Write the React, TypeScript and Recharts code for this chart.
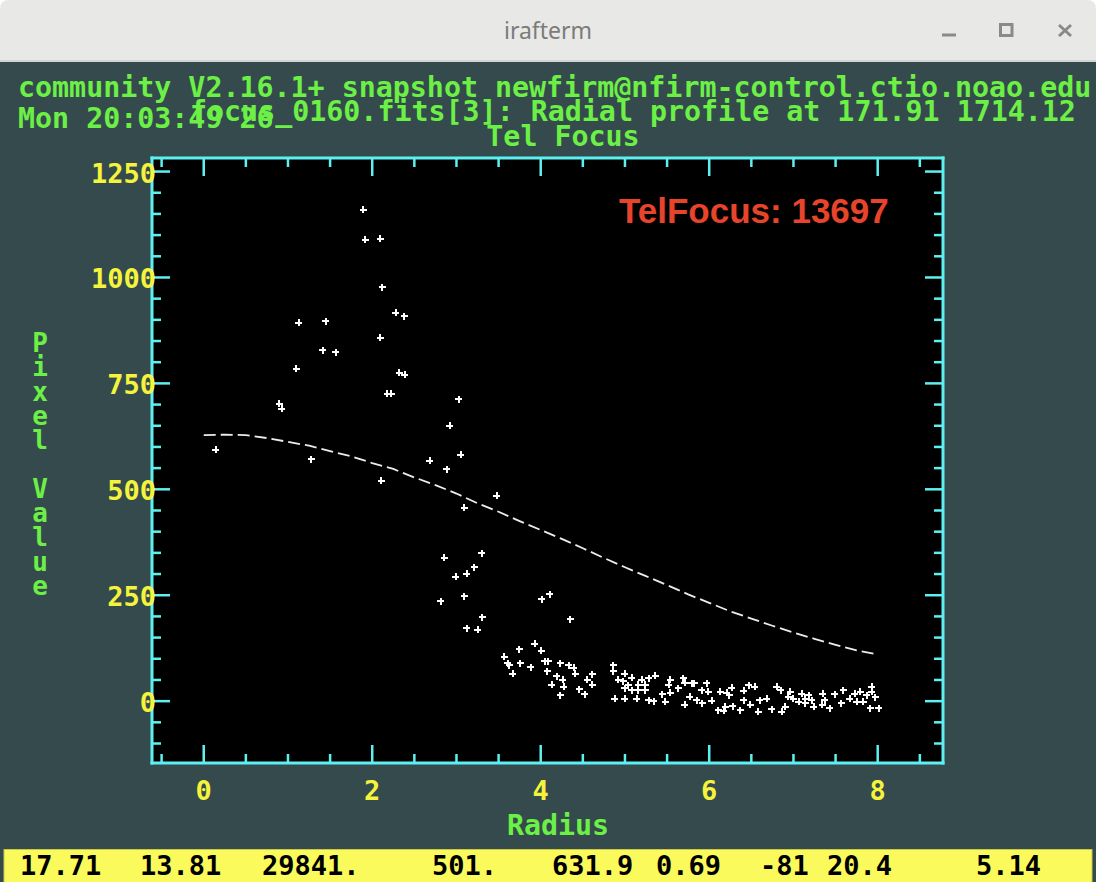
import React from 'react';
import { ScatterChart, Scatter, XAxis, YAxis, CartesianGrid } from 'recharts';

// ---------- data ----------
const xTicks = [-0.5, 0, 0.5, 1, 1.5, 2, 2.5, 3, 3.5, 4, 4.5, 5, 5.5, 6, 6.5, 7, 7.5, 8, 8.5];
const xMajor = [0, 2, 4, 6, 8];
const yTicks = [-100, -50, 0, 50, 100, 150, 200, 250, 300, 350, 400, 450, 500, 550, 600, 650, 700, 750, 800, 850, 900, 950, 1000, 1050, 1100, 1150, 1200, 1250];
const yMajor = [0, 250, 500, 750, 1000, 1250];

// radial profile fit (radius, value)
const fitRadius = [0, 0.25, 0.5, 0.75, 1, 1.25, 1.5, 1.75, 2, 2.25, 2.5, 2.75, 3, 3.25, 3.5, 3.75, 4, 4.25, 4.5, 4.75, 5, 5.25, 5.5, 5.75, 6, 6.25, 6.5, 6.75, 7, 7.25, 7.5, 7.75, 8];
const fitValue = [628, 629, 628, 621, 612, 603, 590, 578, 562, 548, 528, 510, 490, 467, 447, 425, 404, 383, 361, 338, 316, 295, 274, 252, 232, 212, 195, 178, 162, 147, 133, 120, 110];

// pixel samples near the core (radius, value)
const corePoints: [number, number][] = [
  [1.894, 1160], [1.92, 1089], [2.096, 1091], [2.12, 977], [2.28, 917], [2.38, 909],
  [2.096, 858], [1.13, 893], [1.447, 897], [1.41, 828], [1.57, 824], [1.1, 784],
  [0.894, 702], [0.925, 690], [2.32, 775], [2.385, 770], [2.18, 726], [2.227, 726],
  [3.03, 712], [2.92, 650], [0.142, 593], [1.274, 571], [2.108, 520], [3.05, 581],
  [2.685, 567], [2.887, 547], [3.476, 485], [3.09, 456], [2.855, 339], [3.3, 349],
  [3.21, 316], [3.12, 301], [2.99, 294], [3.09, 248], [2.816, 236], [3.306, 198],
  [3.12, 172], [3.255, 168],
];

// pixel samples in the wings (radius, value)
const wingPoints: [number, number][] = [
  [4.01, 240], [4.11, 252], [4.35, 193], [3.93, 136], [3.745, 123], [4.006, 119],
  [3.567, 105], [3.61, 90], [3.626, 85], [3.757, 90], [3.88, 80], [3.667, 65],
  [4.05, 94], [4.09, 94], [4.08, 71], [4.23, 90], [4.33, 85], [4.39, 79], [4.41, 65],
  [4.19, 59], [4.26, 50], [4.13, 39], [4.275, 34], [4.23, 14], [4.61, 64], [4.55, 51],
  [4.61, 39], [4.46, 28], [4.52, 16], [4.86, 85], [4.86, 71], [4.92, 51], [5.0, 65],
  [4.98, 47], [5.08, 55], [5.04, 38], [5.0, 30], [5.08, 26], [5.16, 39], [5.2, 50],
  [5.28, 54], [5.24, 39], [5.16, 26], [5.24, 26], [5.36, 60], [4.88, 6], [5.0, 6],
  [5.14, 6], [5.28, 2], [5.34, 0], [5.48, -2], [5.44, 16], [5.54, 20], [5.52, 39],
  [5.54, 50], [5.63, 30], [5.69, 54], [5.71, 44], [5.79, 42], [5.77, 10], [5.71, -9],
  [5.82, 42], [5.97, 42], [5.91, 26], [5.99, 22], [5.85, 2], [5.92, -5], [6.03, 1],
  [6.13, 22], [6.21, 20], [6.27, 32], [6.24, 14], [6.11, -21], [6.19, -13], [6.28, -12],
  [6.17, -23], [6.41, 24], [6.47, 38], [6.54, 34], [6.41, 2], [6.37, -21], [6.49, -9],
  [6.6, 2], [6.68, 6], [6.58, -25], [6.74, -19], [6.8, 34], [6.85, 26], [6.9, -13],
  [6.86, -25], [6.96, 22], [6.94, 10], [7.0, 6], [7.06, -2], [7.1, 18], [7.14, 6],
  [7.18, 14], [7.22, 2], [7.14, -5], [7.24, -13], [7.35, 18], [7.37, 2], [7.34, -9],
  [7.43, -17], [7.49, 16], [7.59, 26], [7.57, -5], [7.67, 6], [7.73, 18], [7.79, 22],
  [7.75, -2], [7.83, -2], [7.87, 14], [7.93, 34], [7.93, 22], [7.97, 9], [7.91, -17],
  [8.01, -17],
];

const statusFields = ['17.71', '13.81', '29841.', '501.', '631.9', '0.69', '-81', '20.4', '5.14'];
const statusX = [20, 140, 262, 432, 552, 656, 760, 827, 976];

const headerLine1 = 'community V2.16.1+ snapshot newfirm@nfirm-control.ctio.noao.edu';
const headerLine2 = 'Mon 20:03:49 26';
const plotTitle = 'focus_0160.fits[3]: Radial profile at 171.91 1714.12';
const subTitle = 'Tel Focus';
const xLabel = 'Radius';
const yLabel = 'Pixel Value';
const focusNote = 'TelFocus: 13697';

// ---------- styles ----------
const W = 1096;
const H = 882;
const TERM_BG = '#354a4d';
const GREEN = '#6cf046';
const YELLOW = '#f4f43c';
const CYAN = '#5ef0f0';
const MONO = "'DejaVu Sans Mono', 'Liberation Mono', monospace";
const MAJOR_LEN = 18;
const MINOR_LEN = 9;

const fitData = fitRadius.map((x, i) => ({ x, y: fitValue[i] }));
const pointData = [...corePoints, ...wingPoints].map(([x, y]) => ({ x, y }));

const Cross = (props: any) => {
  const { cx, cy } = props;
  if (cx == null || cy == null) return <g />;
  return (
    <path
      d={`M${cx - 3.5},${cy}H${cx + 3.5}M${cx},${cy - 3.5}V${cy + 3.5}`}
      stroke="#ffffff"
      strokeWidth={2}
      shapeRendering="crispEdges"
    />
  );
};

const Nothing = () => <g />;

const tickLabelStyle = {
  fill: YELLOW,
  fontFamily: MONO,
  fontSize: 27,
  fontWeight: 700 as const,
};

const BottomTick = (props: any) => {
  const { x, y, payload } = props;
  const v = payload.value;
  const major = xMajor.includes(v);
  return (
    <g>
      <line x1={x} y1={y} x2={x} y2={y - (major ? MAJOR_LEN : MINOR_LEN)} stroke={CYAN} strokeWidth={2.5} />
      {major && (
        <text x={x} y={y + 37} textAnchor="middle" {...tickLabelStyle}>
          {String(v)}
        </text>
      )}
    </g>
  );
};

const TopTick = (props: any) => {
  const { x, y, payload } = props;
  const major = xMajor.includes(payload.value);
  return <line x1={x} y1={y} x2={x} y2={y + (major ? MAJOR_LEN : MINOR_LEN)} stroke={CYAN} strokeWidth={2.5} />;
};

const LeftTick = (props: any) => {
  const { x, y, payload } = props;
  const v = payload.value;
  const major = yMajor.includes(v);
  return (
    <g>
      <line x1={x} y1={y} x2={x + (major ? MAJOR_LEN : MINOR_LEN)} y2={y} stroke={CYAN} strokeWidth={2.5} />
      {major && (
        <text x={x + 4} y={y + 11} textAnchor="end" {...tickLabelStyle}>
          {String(v)}
        </text>
      )}
    </g>
  );
};

const RightTick = (props: any) => {
  const { x, y, payload } = props;
  const major = yMajor.includes(payload.value);
  return <line x1={x} y1={y} x2={x - (major ? MAJOR_LEN : MINOR_LEN)} y2={y} stroke={CYAN} strokeWidth={2.5} />;
};

const axisLine = { stroke: CYAN, strokeWidth: 3, strokeLinecap: 'square' as const };

export default function App() {
  const yLetters = yLabel.split('');
  return (
    <div style={{ position: 'absolute', left: 0, top: 0, width: W, height: H, overflow: 'hidden' }}>
      {/* window chrome and terminal background */}
      <svg style={{ position: 'absolute', left: 0, top: 0 }} width={W} height={H}>
        <rect x={0} y={0} width={W} height={H} fill="#ffffff" />
        <path d={`M0,62 V9 Q0,0 9,0 H${W - 9} Q${W},0 ${W},9 V62 Z`} fill="#e8e8e6" />
        <rect x={0} y={60} width={W} height={2} fill="#d4d4d2" />
        <rect x={0} y={62} width={W} height={H - 62} fill={TERM_BG} />
        <line x1={942} y1={35} x2={956} y2={35} stroke="#8a8a8a" strokeWidth={3} />
        <rect x={1000.5} y={24.5} width={11.5} height={11} fill="none" stroke="#8a8a8a" strokeWidth={3} />
        <path d="M1059,25 L1071,36 M1071,25 L1059,36" stroke="#8a8a8a" strokeWidth={3} />
        <text x={548} y={39} textAnchor="middle" fill="#7b7b7b" fontFamily="'Noto Sans', 'DejaVu Sans', sans-serif" fontSize={23}>
          irafterm
        </text>
        <rect x={4} y={849.5} width={1088} height={33} fill="#fafa5c" stroke="#c9c944" strokeWidth={1} />
      </svg>

      {/* chart */}
      <div style={{ position: 'absolute', left: 0, top: 0 }}>
        <ScatterChart width={W} height={H} margin={{ top: 157, right: 152, bottom: 118, left: 151 }}>
          <CartesianGrid xAxisId="b" yAxisId="l" fill="#000000" stroke="none" horizontal={false} vertical={false} />
          <XAxis
            xAxisId="b"
            dataKey="x"
            type="number"
            domain={[-0.614, 8.775]}
            allowDataOverflow
            ticks={xTicks}
            interval={0}
            height={1}
            tickSize={0}
            tickMargin={0}
            tickLine={false}
            axisLine={axisLine}
            tick={<BottomTick />}
          />
          <XAxis
            xAxisId="t"
            orientation="top"
            dataKey="x"
            type="number"
            domain={[-0.614, 8.775]}
            allowDataOverflow
            ticks={xTicks}
            interval={0}
            height={1}
            tickSize={0}
            tickMargin={0}
            tickLine={false}
            axisLine={axisLine}
            tick={<TopTick />}
          />
          <YAxis
            yAxisId="l"
            dataKey="y"
            type="number"
            domain={[-146, 1282]}
            allowDataOverflow
            ticks={yTicks}
            interval={0}
            width={1}
            tickSize={0}
            tickMargin={0}
            tickLine={false}
            axisLine={axisLine}
            tick={<LeftTick />}
          />
          <YAxis
            yAxisId="r"
            orientation="right"
            dataKey="y"
            type="number"
            domain={[-146, 1282]}
            allowDataOverflow
            ticks={yTicks}
            interval={0}
            width={1}
            tickSize={0}
            tickMargin={0}
            tickLine={false}
            axisLine={axisLine}
            tick={<RightTick />}
          />
          <Scatter
            xAxisId="t"
            yAxisId="r"
            data={fitData}
            shape={<Nothing />}
            isAnimationActive={false}
          />
          <Scatter
            xAxisId="b"
            yAxisId="l"
            data={fitData}
            line={{ stroke: '#ececec', strokeWidth: 1.8, strokeDasharray: '12 5' }}
            shape={<Nothing />}
            isAnimationActive={false}
          />
          <Scatter
            xAxisId="b"
            yAxisId="l"
            data={pointData}
            shape={<Cross />}
            isAnimationActive={false}
          />
        </ScatterChart>
      </div>

      {/* terminal text overlay */}
      <svg style={{ position: 'absolute', left: 0, top: 0, pointerEvents: 'none' }} width={W} height={H}>
        <g fill={GREEN} fontFamily={MONO} fontSize={28.3} fontWeight={700}>
          <text x={18} y={97}>{headerLine1}</text>
          <text x={18} y={128}>{headerLine2}</text>
          <text x={190} y={121}>{plotTitle}</text>
          <text x={563} y={146} textAnchor="middle">{subTitle}</text>
          <text x={558} y={835} textAnchor="middle">{xLabel}</text>
        </g>
        <g fill={GREEN} fontFamily={MONO} fontSize={26} fontWeight={700}>
          {yLetters.map((ch, i) => (
            <text key={i} x={40} y={352 + i * 24.3} textAnchor="middle">
              {ch}
            </text>
          ))}
        </g>
        <text x={619} y={223} fill="#e8432b" fontFamily="'Liberation Sans', Arial, sans-serif" fontWeight={700} fontSize={35}>
          {focusNote}
        </text>
        <g fill="#000000" fontFamily={MONO} fontSize={27} fontWeight={700}>
          {statusFields.map((s, i) => (
            <text key={i} x={statusX[i]} y={875}>
              {s}
            </text>
          ))}
        </g>
      </svg>
    </div>
  );
}
